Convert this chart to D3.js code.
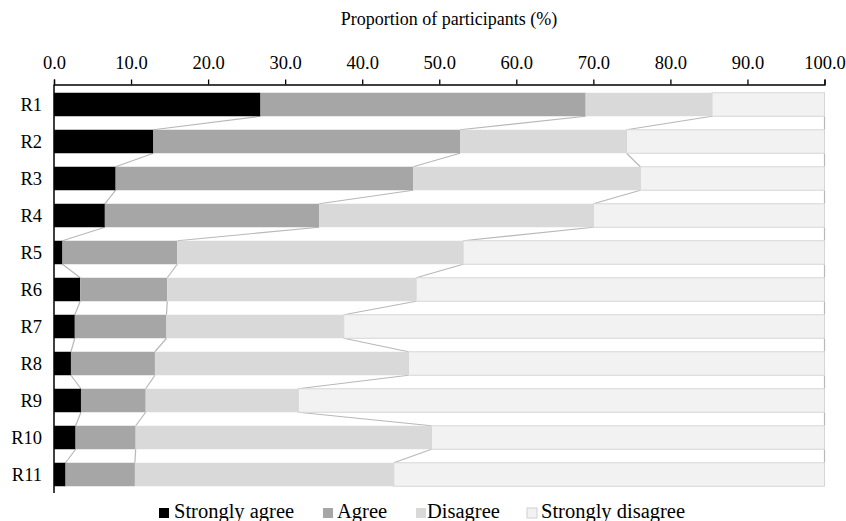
<!DOCTYPE html>
<html>
<head>
<meta charset="utf-8">
<script src="https://cdn.jsdelivr.net/npm/d3@7"></script>
<style>
  html, body { margin: 0; padding: 0; background: #fff; }
  svg { display: block; }
  text { font-family: "Liberation Serif", "Times New Roman", serif; fill: #000; }
</style>
</head>
<body>
<svg id="chart" width="846" height="521"></svg>
<script>
const categories = ["R1","R2","R3","R4","R5","R6","R7","R8","R9","R10","R11"];
const seriesNames = ["Strongly agree","Agree","Disagree","Strongly disagree"];
const stronglyAgree    = [26.8, 12.9,  8.0,  6.6,  1.1,  3.4,  2.7,  2.2,  3.5,  2.8,  1.5];
const agree            = [42.2, 39.8, 38.6, 27.8, 14.9, 11.3, 11.9, 10.9,  8.4,  7.8,  9.0];
const disagree         = [16.4, 21.6, 29.5, 35.6, 37.1, 32.3, 23.0, 32.9, 19.8, 38.4, 33.6];
const stronglyDisagree = [14.6, 25.7, 23.9, 30.0, 46.9, 53.0, 62.4, 54.0, 68.3, 51.0, 55.9];
const tickValues = [0,10,20,30,40,50,60,70,80,90,100];
const colors = ["#000000","#a6a6a6","#d9d9d9","#f2f2f2"];

const table = categories.map((c,i) => ({
  cat: c,
  "Strongly agree": stronglyAgree[i],
  "Agree": agree[i],
  "Disagree": disagree[i],
  "Strongly disagree": stronglyDisagree[i]
}));
const stack = d3.stack().keys(seriesNames)(table);

const svg = d3.select("#chart");
const x = d3.scaleLinear().domain([0,100]).range([54,824.5]);
const y = d3.scaleBand().domain(categories).range([86,493]).paddingInner(0.365).paddingOuter(0.1825);

// series lines
const lineColor = "#b8b8b8";
stack.forEach((s) => {
  for (let i = 0; i < categories.length - 1; i++) {
    svg.append("line")
      .attr("x1", x(s[i][1])).attr("y1", y(categories[i]) + y.bandwidth())
      .attr("x2", x(s[i+1][1])).attr("y2", y(categories[i+1]))
      .attr("stroke", lineColor).attr("stroke-width", 1.2);
  }
});

// bars
stack.forEach((s, k) => {
  svg.append("g").selectAll("rect").data(s).join("rect")
    .attr("x", d => x(d[0]))
    .attr("y", d => y(d.data.cat))
    .attr("width", d => x(d[1]) - x(d[0]))
    .attr("height", y.bandwidth())
    .attr("fill", colors[k])
    .attr("stroke", k === 3 ? "#d6d6d6" : "none")
    .attr("stroke-width", k === 3 ? 1 : 0);
});

// top axis
const xAxis = d3.axisTop(x).tickValues(tickValues).tickFormat(d3.format(".1f")).tickSize(5).tickSizeOuter(5).tickPadding(11);
const gx = svg.append("g").attr("transform", "translate(0,84.5)").call(xAxis);
gx.attr("font-family", null);
gx.select(".domain").attr("stroke", "#000").attr("stroke-width", 1.3);
gx.selectAll(".tick line").attr("stroke", "#000").attr("stroke-width", 1.3);
gx.selectAll(".tick text").attr("font-size", 18.5).attr("fill", "#000");

// left axis
svg.append("line").attr("x1", 54).attr("x2", 54).attr("y1", 84.5).attr("y2", 493)
  .attr("stroke", "#000").attr("stroke-width", 1.5);
svg.append("g").selectAll("text").data(categories).join("text")
  .attr("x", 42).attr("y", d => y(d) + y.bandwidth()/2)
  .attr("text-anchor", "end").attr("dominant-baseline", "central")
  .attr("font-size", 18.5).text(d => d);

// title
svg.append("text").attr("x", 449).attr("y", 19).attr("text-anchor", "middle")
  .attr("dominant-baseline", "central").attr("font-size", 18)
  .text("Proportion of participants (%)");

// legend
const legendX = [159, 323, 416, 527];
const legendTextX = [174, 337, 427, 541];
const lg = svg.append("g");
seriesNames.forEach((n, k) => {
  lg.append("rect").attr("x", legendX[k]).attr("y", 508).attr("width", 10).attr("height", 10)
    .attr("fill", colors[k]).attr("stroke", k === 3 ? "#d0d0d0" : "none");
  lg.append("text").attr("x", legendTextX[k]).attr("y", 518)
    .attr("font-size", 20.5).text(n);
});
</script>
</body>
</html>
